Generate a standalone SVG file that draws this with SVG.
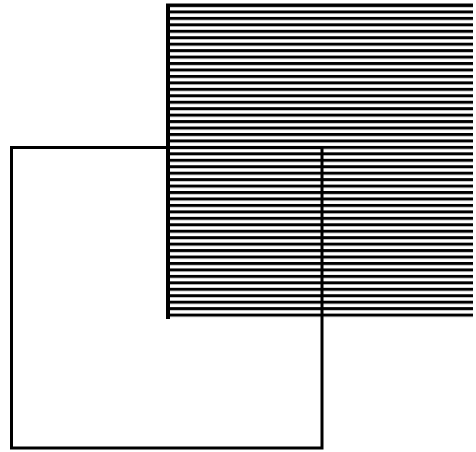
<svg xmlns="http://www.w3.org/2000/svg" width="476" height="452" viewBox="0 0 476 452">
<defs>
<pattern id="hatch" x="0" y="4" width="10" height="6.45" patternUnits="userSpaceOnUse">
<rect x="0" y="0" width="10" height="3" fill="#000"/>
</pattern>
<style>
.outline{fill:none;stroke:#000;stroke-width:3}
</style>
</defs>
<rect width="476" height="452" fill="#fff"/>
<g id="hatched-square">
<rect x="167" y="4" width="306" height="314" fill="url(#hatch)"/>
<line x1="168" y1="4" x2="168" y2="319" stroke="#000" stroke-width="4"/>
<line x1="166" y1="5" x2="473" y2="5" stroke="#000" stroke-width="3"/>
</g>
<g id="outline-square">
<rect class="outline" x="11.5" y="147.5" width="310.5" height="300.5"/>
</g>
</svg>
